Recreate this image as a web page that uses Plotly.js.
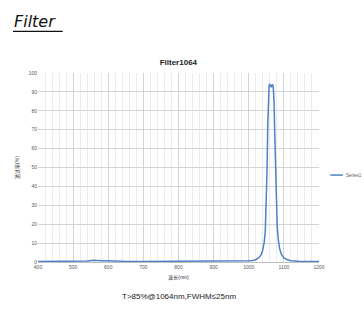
<!DOCTYPE html>
<html>
<head>
<meta charset="utf-8">
<script src="https://cdn.plot.ly/plotly-3.0.1.min.js"></script>
<style>html,body{margin:0;padding:0;background:#fff;}#chart{width:364px;height:318px;}</style>
</head>
<body>
<div id="chart"></div>
<script>
const wavelength = [400,420,440,460,480,500,520,540,560,580,600,620,650,700,750,800,850,900,950,980,1000,1010,1020,1030,1035,1040,1044,1047,1050,1052,1054,1056,1058,1060,1062,1064,1066,1068,1070,1072,1074,1076,1078,1081,1084,1088,1093,1100,1110,1120,1140,1160,1180,1200];
const transmission = [0.3,0.3,0.4,0.7,0.4,0.3,0.3,0.5,0.9,0.6,0.7,0.4,0.3,0.3,0.3,0.3,0.3,0.3,0.3,0.4,0.6,0.8,1.2,2.5,3.8,6.5,10.5,16,30,48,72,88,93.5,94,93,92.5,93.5,94,92,85,68,48,32,19,12,7,4,2.2,1.2,0.7,0.4,0.3,0.3,0.3];
const seriesName = "Series1";
const chartTitle = "Filter1064";
const xTitle = "波长(nm)";
const yTitle = "透过率(%)";
const headerText = "Filter";
const noteText = "T>85%@1064nm,FWHM≤25nm";

const cjk = "Liberation Sans, Noto Sans CJK SC, sans-serif";
const lineColor = "#4f81c7";

Plotly.newPlot("chart", [{
  x: wavelength, y: transmission, type: "scatter", mode: "lines",
  name: seriesName, line: {color: lineColor, width: 1.5}, showlegend: false
}], {
  width: 364, height: 318,
  margin: {l: 38, r: 45, t: 73, b: 56},
  paper_bgcolor: "#fff", plot_bgcolor: "#fff",
  title: {text: "<b>" + chartTitle + "</b>", font: {family: cjk, size: 8, color: "#222"},
          x: 0.49, xanchor: "center", y: 0.805, yref: "container", yanchor: "middle"},
  xaxis: {range: [400, 1200], dtick: 100, tick0: 400, showgrid: true, gridcolor: "#d4d4d4", gridwidth: 1,
          minor: {dtick: 20, showgrid: true, gridcolor: "#ececec", gridwidth: 1},
          showline: true, linecolor: "#bfbfbf", zeroline: false, ticks: "",
          tickfont: {family: cjk, size: 5, color: "#595959"},
          title: {text: xTitle, font: {family: cjk, size: 5, color: "#333"}, standoff: 6}},
  yaxis: {range: [0, 100], dtick: 10, showgrid: true, gridcolor: "#d4d4d4", gridwidth: 1,
          zeroline: false, showline: false, ticks: "",
          tickfont: {family: cjk, size: 5, color: "#595959"},
          title: {text: yTitle, font: {family: cjk, size: 5, color: "#333"}, standoff: 8}},
  shapes: [
    {type: "line", xref: "paper", yref: "paper", x0: -0.089, x1: 0.088, y0: 1.22, y1: 1.22,
     line: {color: "#111", width: 1.2}},
    {type: "line", xref: "paper", yref: "paper", x0: 1.04, x1: 1.085, y0: 0.46, y1: 0.46,
     line: {color: lineColor, width: 1.5}}
  ],
  annotations: [
    {text: "<i>" + headerText + "</i>", xref: "paper", yref: "paper", x: -0.092, y: 1.275,
     xanchor: "left", yanchor: "middle", showarrow: false,
     font: {family: "DejaVu Sans, sans-serif", size: 16, color: "#111"}},
    {text: seriesName, xref: "paper", yref: "paper", x: 1.09, y: 0.46, xanchor: "left", yanchor: "middle",
     showarrow: false, font: {family: cjk, size: 4.5, color: "#595959"}},
    {text: noteText, xref: "paper", yref: "paper", x: 0.5, y: -0.185, xanchor: "center", yanchor: "middle",
     showarrow: false, font: {family: cjk, size: 8, color: "#222"}}
  ]
}, {displayModeBar: false, staticPlot: true});
</script>
</body>
</html>
